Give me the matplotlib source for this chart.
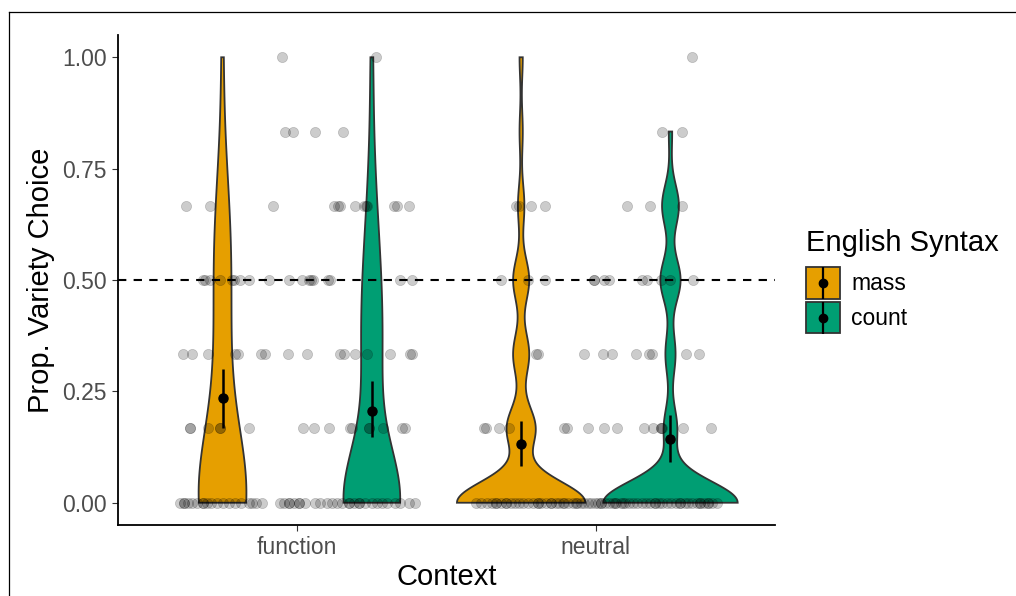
import numpy as np
import matplotlib.pyplot as plt
from matplotlib.lines import Line2D
from matplotlib.patches import Patch
from matplotlib.legend_handler import HandlerTuple, HandlerLine2D

plt.rcParams['font.family'] = ['Liberation Sans', 'DejaVu Sans']

# response levels (proportion of variety choices)
levels = [0, 1/6, 1/3, 1/2, 2/3, 5/6, 1]
contexts = ['function', 'neutral']
syntax = ['mass', 'count']
fill_colors = ['#E69F00', '#009E73']

# how many responses fall on each level, used for the violins
function_mass_counts = [22, 4, 3, 5, 4, 0, 1]
function_count_counts = [28, 3, 7, 6, 3, 1, 1]
neutral_mass_counts = [40, 9, 5, 5, 2, 1, 1]
neutral_count_counts = [40, 4, 3, 6, 5, 1, 0]

# mean and 95% CI per context, one list per syntax
mass_mean = [0.234, 0.132]
mass_lo = [0.168, 0.083]
mass_hi = [0.301, 0.184]
count_mean = [0.206, 0.142]
count_lo = [0.147, 0.092]
count_hi = [0.274, 0.196]

# jittered individual points, horizontal offset from the context centre, per level
function_jitter = [
    [-0.393, -0.38, -0.38, -0.367, -0.353, -0.337, -0.317, -0.317, -0.303, -0.287, -0.267, -0.247,
     -0.227, -0.207, -0.187, -0.163, -0.15, -0.137, -0.117, -0.057, -0.043, -0.027, -0.027, -0.01,
     0.007, 0.007, 0.027, 0.06, 0.077, 0.1, 0.117, 0.133, 0.15, 0.173, 0.173, 0.19, 0.207, 0.207,
     0.227, 0.25, 0.267, 0.283, 0.3, 0.327, 0.343, 0.373, 0.393],
    [-0.36, -0.36, -0.297, -0.257, -0.257, -0.163, 0.02, 0.057, 0.107, 0.177, 0.183, 0.24, 0.24,
     0.287, 0.35, 0.36],
    [-0.383, -0.353, -0.297, -0.207, -0.197, -0.12, -0.107, -0.03, 0.033, 0.143, 0.157, 0.193,
     0.233, 0.31, 0.377, 0.383],
    [-0.317, -0.31, -0.293, -0.257, -0.217, -0.21, -0.193, -0.163, -0.093, -0.027, 0.017, 0.04,
     0.047, 0.053, 0.103, 0.11, 0.343, 0.383],
    [-0.373, -0.293, -0.08, 0.123, 0.137, 0.143, 0.193, 0.223, 0.23, 0.233, 0.323, 0.333, 0.373],
    [-0.04, -0.013, 0.06, 0.153],
    [-0.05, 0.263],
]
neutral_jitter = [
    [-0.4, -0.383, -0.363, -0.347, -0.333, -0.333, -0.317, -0.3, -0.3, -0.283, -0.27, -0.257,
     -0.243, -0.227, -0.21, -0.193, -0.193, -0.183, -0.167, -0.15, -0.15, -0.133, -0.123, -0.11,
     -0.107, -0.093, -0.077, -0.067, -0.063, -0.05, -0.04, -0.027, -0.017, -0.003, 0.007, 0.017,
     0.017, 0.03, 0.043, 0.057, 0.063, 0.067, 0.083, 0.09, 0.097, 0.11, 0.123, 0.137, 0.153,
     0.167, 0.183, 0.197, 0.197, 0.21, 0.223, 0.24, 0.253, 0.27, 0.283, 0.283, 0.297, 0.31,
     0.323, 0.34, 0.35, 0.35, 0.363, 0.377, 0.377, 0.39, 0.407],
    [-0.373, -0.367, -0.323, -0.29, -0.107, -0.097, -0.027, 0.027, 0.07, 0.163, 0.193, 0.217,
     0.217, 0.223, 0.293, 0.387],
    [-0.2, -0.193, -0.04, 0.023, 0.053, 0.133, 0.177, 0.187, 0.303, 0.347],
    [-0.317, -0.227, -0.17, -0.007, -0.007, 0.027, 0.043, 0.153, 0.173, 0.217, 0.25, 0.327],
    [-0.267, -0.257, -0.217, -0.17, 0.103, 0.18, 0.287],
    [0.22, 0.29],
    [0.323],
]

dodge = 0.25
max_width = [0.16, 0.19, 0.43, 0.45]   # full width of each violin at its widest
bandwidth = [0.15, 0.12, 0.048, 0.048]


def violin(ax, center, counts, bw, width, color):
    lv = np.array(levels)
    n = np.array(counts, dtype=float)
    top = lv[n > 0].max()
    y = np.linspace(0, top, 300)
    dens = (n[None, :] * np.exp(-0.5 * ((y[:, None] - lv[None, :]) / bw) ** 2)).sum(axis=1)
    half = dens / dens.max() * width / 2
    xs = np.concatenate([center - half, (center + half)[::-1]])
    ys = np.concatenate([y, y[::-1]])
    ax.fill(xs, ys, facecolor=color, edgecolor='#333333', linewidth=1.3, zorder=2)


# legend lines centred on the key box, like the patch
class CenteredLine(HandlerLine2D):
    def create_artists(self, legend, orig_handle, xdescent, ydescent, width, height, fontsize, trans):
        arts = super().create_artists(legend, orig_handle, xdescent, ydescent, width, height, fontsize, trans)
        for a in arts:
            a.set_ydata(np.full_like(np.asarray(a.get_ydata(), dtype=float), height / 2 - ydescent))
        return arts


fig = plt.figure(figsize=(10.16, 5.96), dpi=100)
ax = fig.add_axes([118 / 1016, 1 - 525 / 596, (775 - 118) / 1016, (525 - 35) / 596])

all_counts = [function_mass_counts, function_count_counts, neutral_mass_counts, neutral_count_counts]
k = 0
for ci, ctx in enumerate(contexts):
    for si, syn in enumerate(syntax):
        center = ci + 1 + (si - 0.5) * 2 * dodge
        violin(ax, center, all_counts[k], bandwidth[k], max_width[k], fill_colors[si])
        k += 1

# jittered raw points
for ci, jit in enumerate([function_jitter, neutral_jitter]):
    for li, offs in enumerate(jit):
        xs = [ci + 1 + d for d in offs]
        ax.scatter(xs, [levels[li]] * len(xs), s=54, color='black', alpha=0.2,
                   edgecolors='black', linewidths=0.5, zorder=3)

ax.axhline(0.5, color='black', linestyle=(0, (4, 3.5)), linewidth=1.5, zorder=4)

# means with confidence intervals
for si, (m, lo, hi) in enumerate([(mass_mean, mass_lo, mass_hi), (count_mean, count_lo, count_hi)]):
    xs = [ci + 1 + (si - 0.5) * 2 * dodge for ci in range(len(contexts))]
    ax.vlines(xs, lo, hi, color='black', linewidth=1.8, zorder=5)
    ax.plot(xs, m, 'o', color='black', markersize=6.5, zorder=6)

ax.set_xlim(0.4, 2.6)
ax.set_ylim(-0.05, 1.05)
ax.set_xticks([1, 2])
ax.set_xticklabels(contexts)
ax.set_yticks([0, 0.25, 0.5, 0.75, 1.0])
ax.set_yticklabels(['0.00', '0.25', '0.50', '0.75', '1.00'])
ax.tick_params(length=4.3, width=0.8, color='#333333', labelcolor='#4D4D4D', labelsize=16.5, pad=3.6)
for side in ['top', 'right']:
    ax.spines[side].set_visible(False)
for side in ['left', 'bottom']:
    ax.spines[side].set_linewidth(1.3)
ax.set_xlabel('Context', fontsize=21, labelpad=3)
ax.set_ylabel('Prop. Variety Choice', fontsize=21, labelpad=5)

handles = []
for si in range(2):
    handles.append((Patch(facecolor=fill_colors[si], edgecolor='#333333', linewidth=1.3),
                    Line2D([], [], color='black', marker='|', markersize=23, markeredgewidth=1.6, linestyle='None'),
                    Line2D([], [], color='black', marker='o', markersize=6, linestyle='None')))
leg = fig.legend(handles, syntax, title='English Syntax', loc='upper left',
                 bbox_to_anchor=(806 / 1016, 1 - 229 / 596), frameon=False, fontsize=16.5,
                 title_fontsize=21, handlelength=1.48, handleheight=1.72, handletextpad=0.5,
                 labelspacing=0.15, borderpad=0, borderaxespad=0,
                 handler_map={tuple: HandlerTuple(ndivide=1, pad=0), Line2D: CenteredLine()})
leg._legend_box.align = 'left'
leg._legend_box.sep = 7.5

# outer frame of the original export
fig.add_artist(Line2D([8.5 / 1016, 8.5 / 1016], [0, 1 - 12 / 596], transform=fig.transFigure,
                      color='black', linewidth=0.9))
fig.add_artist(Line2D([8.5 / 1016, 1], [1 - 12 / 596, 1 - 12 / 596], transform=fig.transFigure,
                      color='black', linewidth=0.9))

fig.savefig('out.png', dpi=100)
